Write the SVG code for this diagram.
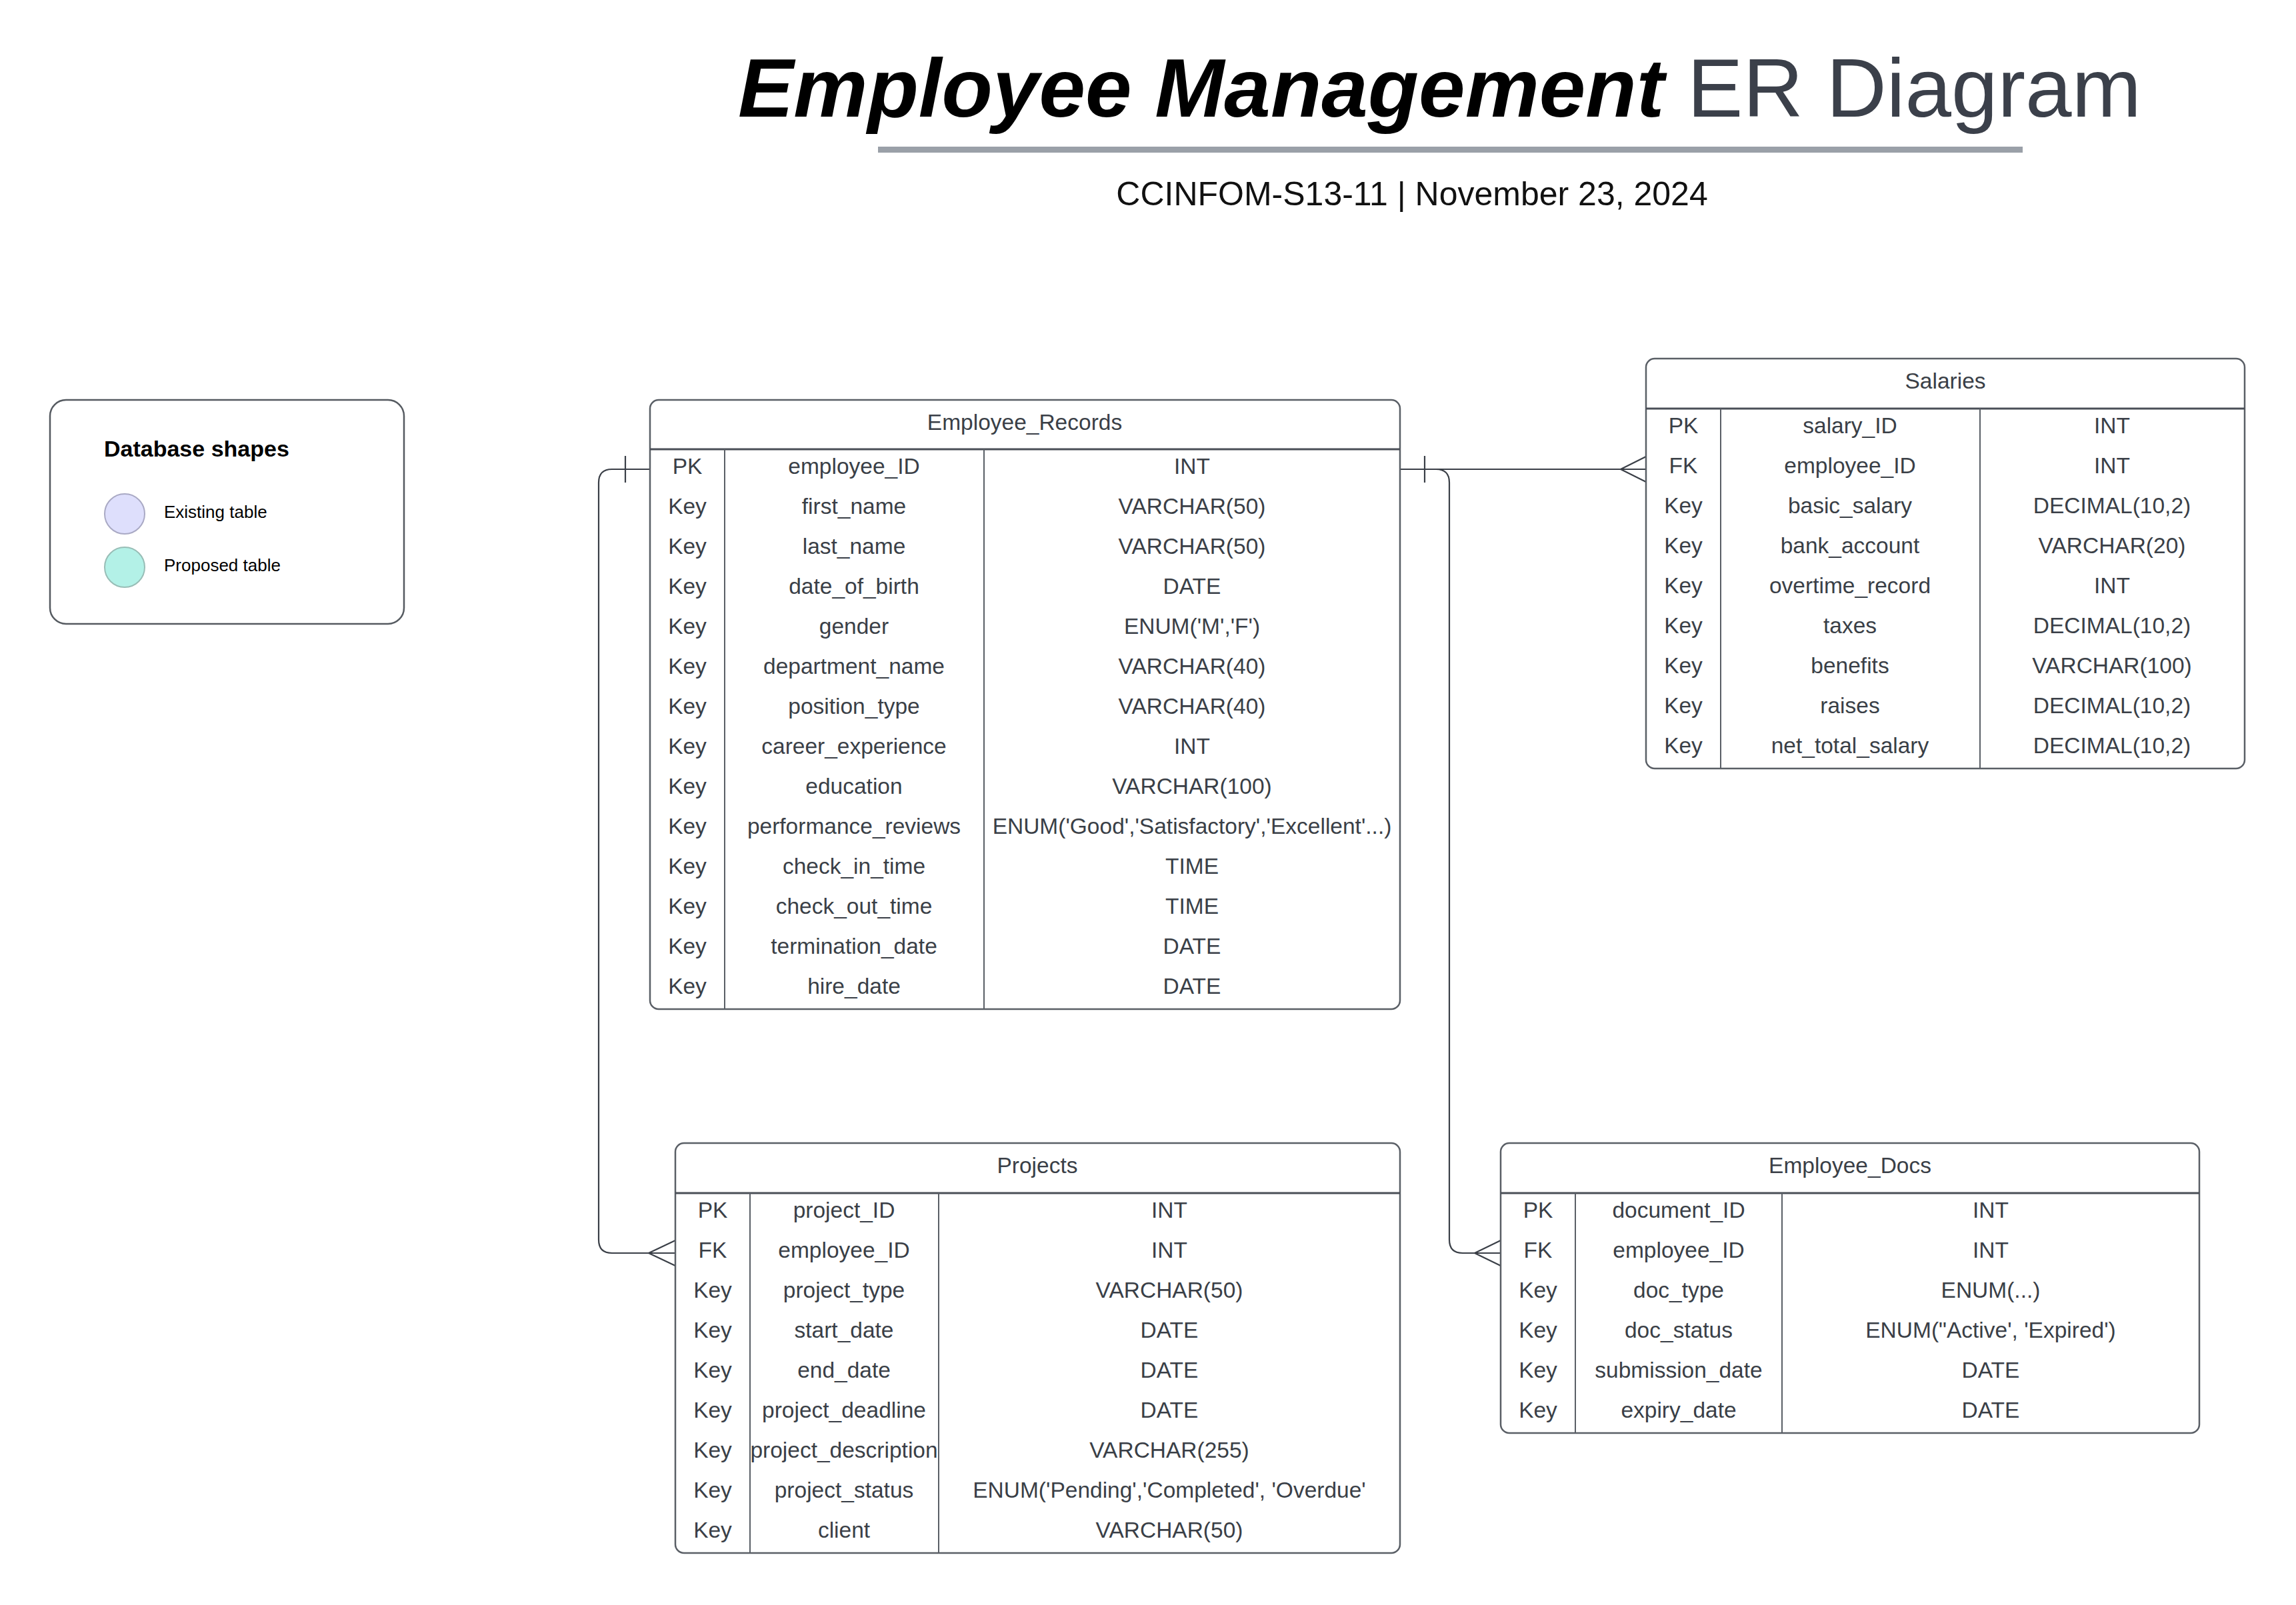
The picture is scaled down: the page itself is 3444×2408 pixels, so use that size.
<svg xmlns="http://www.w3.org/2000/svg" width="3444" height="2408" viewBox="0 0 3444 2408">
<style>
.tb{fill:#ffffff;stroke:#5a5f66;stroke-width:2.5}
.hl{stroke:#4a4f57;stroke-width:3}
.cl{stroke:#5a5f66;stroke-width:2}
.t{font-family:"Liberation Sans",Arial,sans-serif;font-size:33.5px;fill:#3a3f47;text-anchor:middle}
.cn{fill:none;stroke:#3a3f47;stroke-width:2.2}
.lg{font-family:"Liberation Sans",Arial,sans-serif;fill:#000}
</style>
<rect width="3444" height="2408" fill="#ffffff"/>
<g id="title">
<text x="1107" y="175" font-family="'Liberation Sans',Arial,sans-serif" font-size="125"><tspan font-weight="bold" font-style="italic" fill="#000">Employee Management</tspan><tspan fill="#3b404a"> ER Diagram</tspan></text>
<rect x="1317" y="220" width="1717" height="9" fill="#9aa0a8"/>
<text x="2118" y="308" font-family="'Liberation Sans',Arial,sans-serif" font-size="50" fill="#111" text-anchor="middle">CCINFOM-S13-11 | November 23, 2024</text>
</g>
<g id="legend">
<rect x="75" y="600" width="531" height="336" rx="24" fill="#fff" stroke="#555a60" stroke-width="2.5"/>
<text class="lg" x="156" y="685" font-size="34" font-weight="bold">Database shapes</text>
<circle cx="187" cy="771" r="30" fill="#dedffc" stroke="#a9a9c4" stroke-width="2"/>
<text class="lg" x="246" y="777" font-size="26">Existing table</text>
<circle cx="187" cy="851" r="30" fill="#b3f1e7" stroke="#98bdb6" stroke-width="2"/>
<text class="lg" x="246" y="857" font-size="26">Proposed table</text>
</g>
<g id="connectors">
<path class="cn" d="M975 704 H918 Q898 704 898 724 V1860 Q898 1880 918 1880 H1013"/>
<path class="cn" d="M938 684 V724"/>
<path class="cn" d="M973 1880 L1013 1861 M973 1880 L1013 1899"/>
<path class="cn" d="M2100 704 H2469"/>
<path class="cn" d="M2137 684 V724"/>
<path class="cn" d="M2431 704 L2469 685 M2431 704 L2469 723"/>
<path class="cn" d="M2100 704 H2154 Q2174 704 2174 724 V1860 Q2174 1880 2194 1880 H2251"/>
<path class="cn" d="M2212 1880 L2251 1861 M2212 1880 L2251 1899"/>
</g>
<g id="employee_records">
<rect class="tb" x="975" y="600" width="1125" height="914" rx="13"/>
<line class="hl" x1="975" y1="674" x2="2100" y2="674"/>
<line class="cl" x1="1087" y1="674" x2="1087" y2="1514"/>
<line class="cl" x1="1476" y1="674" x2="1476" y2="1514"/>
<text class="t" x="1537" y="645">Employee_Records</text>
<text class="t" x="1031" y="711">PK</text><text class="t" x="1281" y="711">employee_ID</text><text class="t" x="1788" y="711">INT</text>
<text class="t" x="1031" y="771">Key</text><text class="t" x="1281" y="771">first_name</text><text class="t" x="1788" y="771">VARCHAR(50)</text>
<text class="t" x="1031" y="831">Key</text><text class="t" x="1281" y="831">last_name</text><text class="t" x="1788" y="831">VARCHAR(50)</text>
<text class="t" x="1031" y="891">Key</text><text class="t" x="1281" y="891">date_of_birth</text><text class="t" x="1788" y="891">DATE</text>
<text class="t" x="1031" y="951">Key</text><text class="t" x="1281" y="951">gender</text><text class="t" x="1788" y="951">ENUM('M','F')</text>
<text class="t" x="1031" y="1011">Key</text><text class="t" x="1281" y="1011">department_name</text><text class="t" x="1788" y="1011">VARCHAR(40)</text>
<text class="t" x="1031" y="1071">Key</text><text class="t" x="1281" y="1071">position_type</text><text class="t" x="1788" y="1071">VARCHAR(40)</text>
<text class="t" x="1031" y="1131">Key</text><text class="t" x="1281" y="1131">career_experience</text><text class="t" x="1788" y="1131">INT</text>
<text class="t" x="1031" y="1191">Key</text><text class="t" x="1281" y="1191">education</text><text class="t" x="1788" y="1191">VARCHAR(100)</text>
<text class="t" x="1031" y="1251">Key</text><text class="t" x="1281" y="1251">performance_reviews</text><text class="t" x="1788" y="1251">ENUM('Good','Satisfactory','Excellent'...)</text>
<text class="t" x="1031" y="1311">Key</text><text class="t" x="1281" y="1311">check_in_time</text><text class="t" x="1788" y="1311">TIME</text>
<text class="t" x="1031" y="1371">Key</text><text class="t" x="1281" y="1371">check_out_time</text><text class="t" x="1788" y="1371">TIME</text>
<text class="t" x="1031" y="1431">Key</text><text class="t" x="1281" y="1431">termination_date</text><text class="t" x="1788" y="1431">DATE</text>
<text class="t" x="1031" y="1491">Key</text><text class="t" x="1281" y="1491">hire_date</text><text class="t" x="1788" y="1491">DATE</text>
</g>
<g id="salaries">
<rect class="tb" x="2469" y="538" width="898" height="615" rx="13"/>
<line class="hl" x1="2469" y1="613" x2="3367" y2="613"/>
<line class="cl" x1="2581" y1="613" x2="2581" y2="1153"/>
<line class="cl" x1="2970" y1="613" x2="2970" y2="1153"/>
<text class="t" x="2918" y="583">Salaries</text>
<text class="t" x="2525" y="650">PK</text><text class="t" x="2775" y="650">salary_ID</text><text class="t" x="3168" y="650">INT</text>
<text class="t" x="2525" y="710">FK</text><text class="t" x="2775" y="710">employee_ID</text><text class="t" x="3168" y="710">INT</text>
<text class="t" x="2525" y="770">Key</text><text class="t" x="2775" y="770">basic_salary</text><text class="t" x="3168" y="770">DECIMAL(10,2)</text>
<text class="t" x="2525" y="830">Key</text><text class="t" x="2775" y="830">bank_account</text><text class="t" x="3168" y="830">VARCHAR(20)</text>
<text class="t" x="2525" y="890">Key</text><text class="t" x="2775" y="890">overtime_record</text><text class="t" x="3168" y="890">INT</text>
<text class="t" x="2525" y="950">Key</text><text class="t" x="2775" y="950">taxes</text><text class="t" x="3168" y="950">DECIMAL(10,2)</text>
<text class="t" x="2525" y="1010">Key</text><text class="t" x="2775" y="1010">benefits</text><text class="t" x="3168" y="1010">VARCHAR(100)</text>
<text class="t" x="2525" y="1070">Key</text><text class="t" x="2775" y="1070">raises</text><text class="t" x="3168" y="1070">DECIMAL(10,2)</text>
<text class="t" x="2525" y="1130">Key</text><text class="t" x="2775" y="1130">net_total_salary</text><text class="t" x="3168" y="1130">DECIMAL(10,2)</text>
</g>
<g id="projects">
<rect class="tb" x="1013" y="1715" width="1087" height="615" rx="13"/>
<line class="hl" x1="1013" y1="1790" x2="2100" y2="1790"/>
<line class="cl" x1="1125" y1="1790" x2="1125" y2="2330"/>
<line class="cl" x1="1408" y1="1790" x2="1408" y2="2330"/>
<text class="t" x="1556" y="1760">Projects</text>
<text class="t" x="1069" y="1827">PK</text><text class="t" x="1266" y="1827">project_ID</text><text class="t" x="1754" y="1827">INT</text>
<text class="t" x="1069" y="1887">FK</text><text class="t" x="1266" y="1887">employee_ID</text><text class="t" x="1754" y="1887">INT</text>
<text class="t" x="1069" y="1947">Key</text><text class="t" x="1266" y="1947">project_type</text><text class="t" x="1754" y="1947">VARCHAR(50)</text>
<text class="t" x="1069" y="2007">Key</text><text class="t" x="1266" y="2007">start_date</text><text class="t" x="1754" y="2007">DATE</text>
<text class="t" x="1069" y="2067">Key</text><text class="t" x="1266" y="2067">end_date</text><text class="t" x="1754" y="2067">DATE</text>
<text class="t" x="1069" y="2127">Key</text><text class="t" x="1266" y="2127">project_deadline</text><text class="t" x="1754" y="2127">DATE</text>
<text class="t" x="1069" y="2187">Key</text><text class="t" x="1266" y="2187">project_description</text><text class="t" x="1754" y="2187">VARCHAR(255)</text>
<text class="t" x="1069" y="2247">Key</text><text class="t" x="1266" y="2247">project_status</text><text class="t" x="1754" y="2247">ENUM('Pending','Completed', 'Overdue'</text>
<text class="t" x="1069" y="2307">Key</text><text class="t" x="1266" y="2307">client</text><text class="t" x="1754" y="2307">VARCHAR(50)</text>
</g>
<g id="employee_docs">
<rect class="tb" x="2251" y="1715" width="1048" height="435" rx="13"/>
<line class="hl" x1="2251" y1="1790" x2="3299" y2="1790"/>
<line class="cl" x1="2363" y1="1790" x2="2363" y2="2150"/>
<line class="cl" x1="2673" y1="1790" x2="2673" y2="2150"/>
<text class="t" x="2775" y="1760">Employee_Docs</text>
<text class="t" x="2307" y="1827">PK</text><text class="t" x="2518" y="1827">document_ID</text><text class="t" x="2986" y="1827">INT</text>
<text class="t" x="2307" y="1887">FK</text><text class="t" x="2518" y="1887">employee_ID</text><text class="t" x="2986" y="1887">INT</text>
<text class="t" x="2307" y="1947">Key</text><text class="t" x="2518" y="1947">doc_type</text><text class="t" x="2986" y="1947">ENUM(...)</text>
<text class="t" x="2307" y="2007">Key</text><text class="t" x="2518" y="2007">doc_status</text><text class="t" x="2986" y="2007">ENUM("Active', 'Expired')</text>
<text class="t" x="2307" y="2067">Key</text><text class="t" x="2518" y="2067">submission_date</text><text class="t" x="2986" y="2067">DATE</text>
<text class="t" x="2307" y="2127">Key</text><text class="t" x="2518" y="2127">expiry_date</text><text class="t" x="2986" y="2127">DATE</text>
</g>
</svg>
